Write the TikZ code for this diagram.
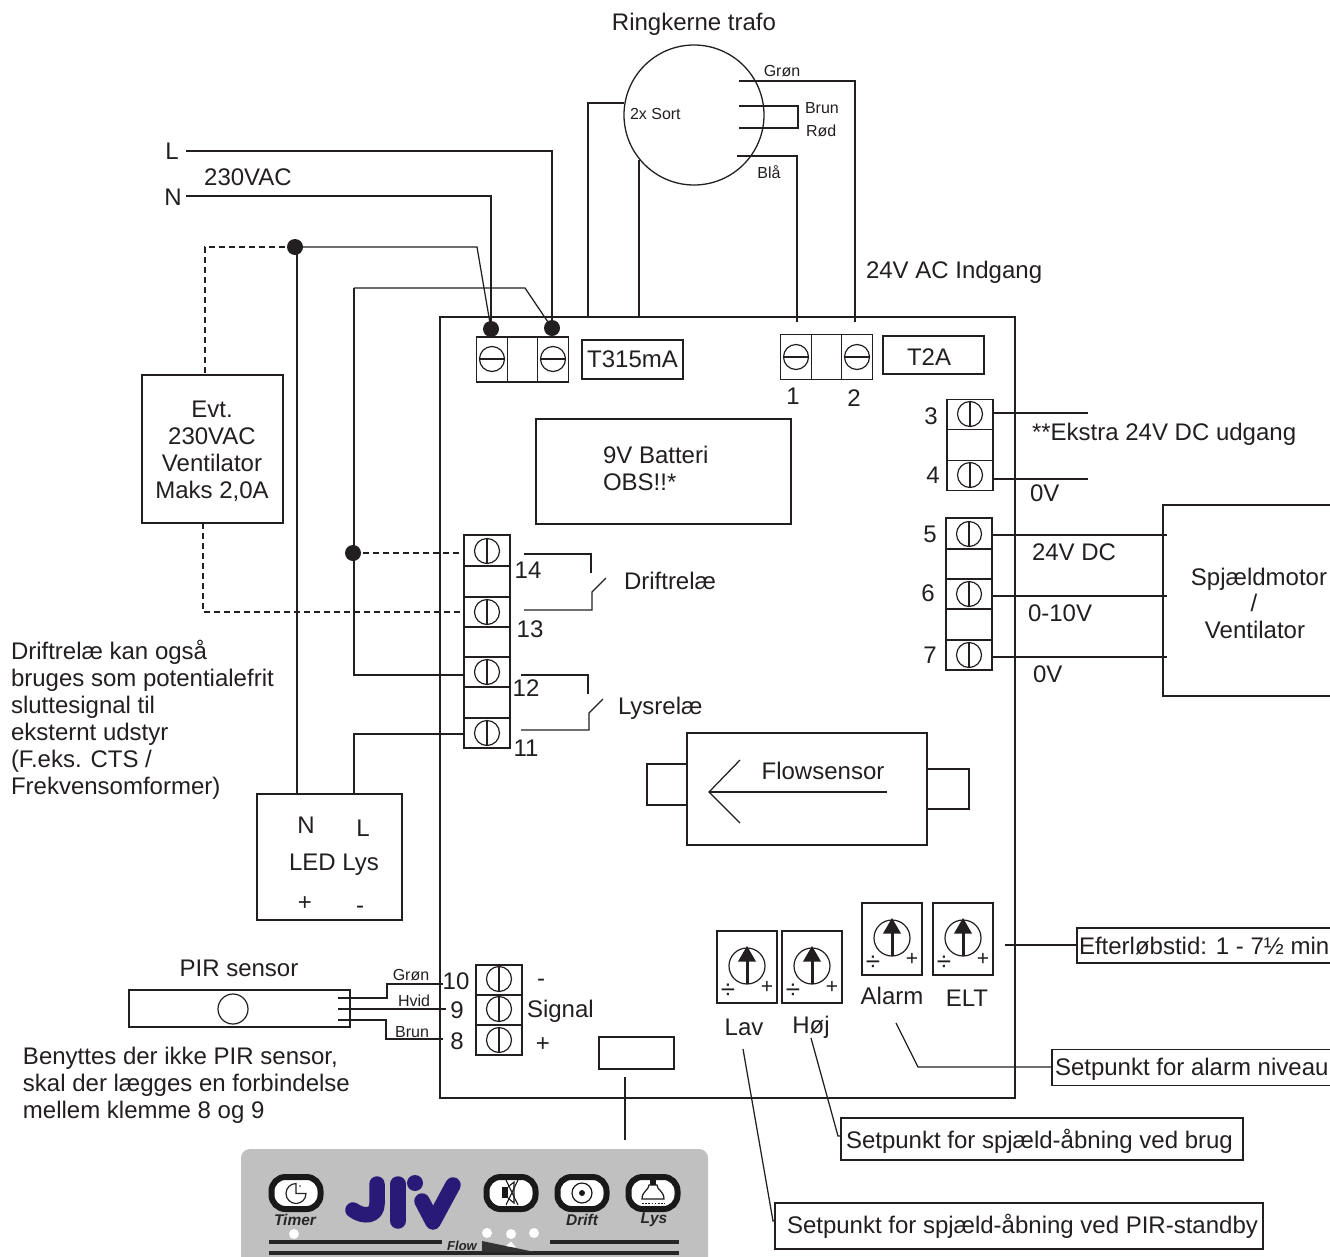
\documentclass[tikz,border=0pt]{standalone}
\usepackage{fontspec}
\setmainfont{Liberation Sans}
\definecolor{ink}{HTML}{231F20}
\definecolor{panelgrey}{HTML}{C0C0C0}
\definecolor{logoblue}{HTML}{2A1A78}
\tikzset{
  wire/.style={draw=ink,line width=1.25pt},
  dashwire/.style={draw=ink,line width=1.1pt,dash pattern=on 6pt off 4pt},
  boxn/.style={draw=ink,line width=1.3pt,inner sep=0pt,outer sep=0pt,text=ink,font=\fontsize{24}{27}\selectfont},
  txt/.style={inner sep=0pt,outer sep=0pt,text=ink,font=\fontsize{24}{27}\selectfont},
  small/.style={txt,font=\fontsize{16}{18}\selectfont},
  lbl/.style={txt,anchor=west},
  junction/.style={circle,fill=ink,inner sep=0pt,minimum size=16pt},
  panellbl/.style={inner sep=0pt,text=black!85,font=\fontsize{15.5}{16}\selectfont\bfseries\itshape},
  pill/.style={draw=black!90,fill=white,line width=6pt,rounded corners=14pt,minimum width=49pt,minimum height=32pt,inner sep=0pt},
  screwv/.pic={\draw[ink,line width=1.2pt] (0,0) circle[radius=12.5pt]; \draw[ink,line width=1.2pt] (0,-12.5) -- (0,12.5);},
  screwh/.pic={\draw[ink,line width=1.2pt] (0,0) circle[radius=12.5pt]; \draw[ink,line width=1.2pt] (-12.5,0) -- (12.5,0);},
  potm/.pic={
    \draw[ink,line width=1.2pt] (0,0) circle[radius=18pt];
    \draw[ink,line width=3pt] (0,18) -- (0,-6);
    \fill[ink] (0,-20) -- (9,-4.5) -- (-9,-4.5) -- cycle;
    \node[txt,font=\fontsize{26}{26}\selectfont] at (-19,25) {÷};
    \node[txt,font=\fontsize{21}{21}\selectfont] at (20,21) {+};
  },
}
\begin{document}
\begin{tikzpicture}[x=1pt,y=-1pt]
\clip (0,0) rectangle (1330,1256);
\fill[white] (0,0) rectangle (1330,1256);

% --- main board
\node[boxn,minimum width=575pt,minimum height=781pt] (board) at (727.5,707.5) {};

% --- top fuse terminal
\node[boxn,minimum width=30.5pt,minimum height=45pt] (fa) at (492,359.5) {};
\node[boxn,minimum width=30.5pt,minimum height=45pt] (fb) at (522.5,359.5) {};
\node[boxn,minimum width=30.5pt,minimum height=45pt] (fc) at (553,359.5) {};
\pic at (492,359) {screwh}; \pic at (553,359) {screwh};
\node[boxn,minimum width=101pt,minimum height=39pt] (t315) at (632.5,359.5) {T315mA};

\node[boxn,minimum width=30.5pt,minimum height=45pt] (ga) at (796,357) {};
\node[boxn,minimum width=30.5pt,minimum height=45pt] (gb) at (826.5,357) {};
\node[boxn,minimum width=30.5pt,minimum height=45pt] (gc) at (857,357) {};
\pic at (796,357) {screwh}; \pic at (857,357) {screwh};
\node[boxn,minimum width=101pt,minimum height=38pt] (t2a) at (933.5,355) {};
\node[txt] (t2atxt) at (929,357) {T2A};
\node[txt] (n1) at (793,396) {1};
\node[txt] (n2) at (854,398) {2};

% --- transformer
\node[draw=ink,line width=1.3pt,circle,minimum size=140pt,inner sep=0pt,outer sep=0pt] (ring) at (694,115) {};
\node[txt] (ringlbl) at (694,24) {Ringkerne trafo};
\node[small,anchor=west] (sort) at (630,114) {2x Sort};
\node[small] (gron) at (782,71) {Grøn};
\node[small,anchor=west] (brun) at (805,108) {Brun};
\node[small,anchor=west] (rod) at (806,131) {Rød};
\node[small] (bla) at (769,172) {Blå};
\coordinate (gr0) at (739,81); \coordinate (gr1) at (855,322);
\coordinate (br0) at (739,106); \coordinate (br1) at (798,117); \coordinate (ro0) at (739,128);
\coordinate (bl0) at (737,156); \coordinate (bl1) at (797,322);
\coordinate (so0) at (623.5,103); \coordinate (so1) at (588,317);
\coordinate (so2) at (639,160); \coordinate (so3) at (639,317);
\draw[wire] (gr0) -| (gr1);
\draw[wire] (br0) -| (br1) |- (ro0);
\draw[wire] (bl0) -| (bl1);
\draw[wire] (so0) -| (so1);
\draw[wire] (so2) -- (so3);

% --- mains
\node[txt] (lL) at (172,151) {L};
\node[txt] (lN) at (173,197) {N};
\node[txt] (lV) at (248,177) {230VAC};
\node[junction] (dotL) at (552,328) {};
\node[junction] (dotN) at (491,329) {};
\node[junction] (dotA) at (295,247) {};
\node[junction] (dotB) at (353,553) {};
\coordinate (Lstart) at (186,151); \coordinate (Nstart) at (186,196);
\coordinate (kink1) at (477,247); \coordinate (kink2) at (525,288);
\coordinate (top12) at (354,288);
\draw[wire] (Lstart) -| (dotL.center);
\draw[wire] (Nstart) -| (dotN.center);
\draw[wire] (dotA.center) -- (kink1) -- (dotN.center);
\draw[wire] (dotL.center) -- (kink2) -- (top12);

% --- 230V fan
\node[boxn,minimum width=141pt,minimum height=148pt] (fan) at (212.5,449) {};
\node[txt,align=center] (fantxt) at (212,451) {Evt.\\230VAC\\Ventilator\\Maks 2,0A};
\coordinate (fd1) at (205,375); \coordinate (fd2) at (203,523);
\coordinate (fd3) at (464,612);
\draw[dashwire] (dotA.center) -| (fd1);
\draw[dashwire] (fd2) |- (fd3);

% --- left terminal block
\node[boxn,minimum width=46pt,minimum height=31pt] (k14) at (487,550.5) {};
\node[boxn,minimum width=46pt,minimum height=31pt] (kA) at (487,581.5) {};
\node[boxn,minimum width=46pt,minimum height=30pt] (k13) at (487,612) {};
\node[boxn,minimum width=46pt,minimum height=30pt] (kB) at (487,642) {};
\node[boxn,minimum width=46pt,minimum height=30pt] (k12) at (487,672) {};
\node[boxn,minimum width=46pt,minimum height=31pt] (kC) at (487,702.5) {};
\node[boxn,minimum width=46pt,minimum height=30pt] (k11) at (487,733) {};
\pic at (487,551) {screwv}; \pic at (487,612) {screwv};
\pic at (487,672) {screwv}; \pic at (487,733) {screwv};
\node[txt] (n14) at (528,570) {14};
\node[txt] (n13) at (530,629) {13};
\node[txt] (n12) at (526,688) {12};
\node[txt] (n11) at (526,748) {11};
\draw[dashwire] (dotB.center) -- (k14.west |- dotB);
\coordinate (w12) at (464,675);
\coordinate (w11b) at (464,734);
\coordinate (w11a) at (354,794);
\draw[wire] (top12) |- (w12);
\draw[wire] (w11a) |- (w11b);
\coordinate (nw) at (297,794);
\draw[wire] (dotA.center -| nw) -- (nw);

% --- relays
\coordinate (r1a) at (524,554); \coordinate (r1b) at (591,573);
\coordinate (r1c) at (524,610); \coordinate (r1d) at (592,592); \coordinate (r1e) at (606,578);
\draw[wire] (r1a) -| (r1b);
\draw[wire] (r1c) -| (r1d) -- (r1e);
\coordinate (r2a) at (521,675); \coordinate (r2b) at (588,694);
\coordinate (r2c) at (521,730); \coordinate (r2d) at (589,713); \coordinate (r2e) at (603,699);
\draw[wire] (r2a) -| (r2b);
\draw[wire] (r2c) -| (r2d) -- (r2e);
\node[lbl] (drift) at (624,581) {Driftrelæ};
\node[lbl] (lys) at (618,708) {Lysrelæ};

% --- note and LED
\node[txt,anchor=north west,align=left] (note) at (11,640) {Driftrelæ kan også\\bruges som potentialefrit\\sluttesignal til\\eksternt udstyr\\(F.eks. CTS /\\Frekvensomformer)};
\node[boxn,minimum width=145pt,minimum height=126pt] (led) at (329.5,857) {};
\node[txt] (ledN) at (306,825) {N};
\node[txt] (ledL) at (363,828) {L};
\node[txt] (ledT) at (334,865) {LED Lys};
\node[txt] (ledP) at (305,904) {+};
\node[txt] (ledM) at (360,910) {-};

% --- battery
\node[boxn,minimum width=255pt,minimum height=105pt] (bat) at (663.5,471.5) {};
\node[txt,anchor=north west,align=left] (battxt) at (603,446.5) {9V Batteri\\OBS!!*};

% --- right terminals
\node[boxn,minimum width=46pt,minimum height=30.5pt] (k3) at (970,414.5) {};
\node[boxn,minimum width=46pt,minimum height=30.5pt] (kD) at (970,445) {};
\node[boxn,minimum width=46pt,minimum height=30.5pt] (k4) at (970,475.5) {};
\pic at (970,414) {screwv}; \pic at (970,475) {screwv};
\node[txt] (n3) at (931,416) {3};
\node[txt] (n4) at (933,475) {4};
\coordinate (e3) at (1088,413); \coordinate (e4) at (1088,479);
\draw[wire] (k3.east |- e3) -- (e3);
\draw[wire] (k4.east |- e4) -- (e4);
\node[lbl] (ekstra) at (1032,434) {**Ekstra 24V DC udgang};
\node[lbl] (ov1) at (1030,493) {0V};

\node[boxn,minimum width=46pt,minimum height=31pt] (k5) at (969,533.5) {};
\node[boxn,minimum width=46pt,minimum height=30pt] (kE) at (969,564) {};
\node[boxn,minimum width=46pt,minimum height=30pt] (k6) at (969,594) {};
\node[boxn,minimum width=46pt,minimum height=31pt] (kF) at (969,624.5) {};
\node[boxn,minimum width=46pt,minimum height=30pt] (k7) at (969,655) {};
\pic at (969,534) {screwv}; \pic at (969,594) {screwv}; \pic at (969,655) {screwv};
\node[txt] (n5) at (930,534) {5};
\node[txt] (n6) at (928,593) {6};
\node[txt] (n7) at (930,655) {7};
\node[boxn,minimum width=200pt,minimum height=191pt] (damper) at (1263,600.5) {};
\coordinate (d5) at (1167,535); \coordinate (d6) at (1167,596); \coordinate (d7) at (1167,657);
\draw[wire] (k5.east |- d5) -- (d5);
\draw[wire] (k6.east |- d6) -- (d6);
\draw[wire] (k7.east |- d7) -- (d7);
\node[lbl] (v24) at (1032,552) {24V DC};
\node[lbl] (v010) at (1028,613) {0-10V};
\node[lbl] (ov2) at (1033,674) {0V};
\node[txt] (sp1) at (1259,579) {Spjældmotor};
\node[txt] (sp2) at (1254,603) {/};
\node[txt] (sp3) at (1255,630) {Ventilator};
\node[lbl] (ind) at (866,272) {24V AC Indgang};

% --- flow sensor
\node[boxn,minimum width=240pt,minimum height=112pt] (flow) at (807,789) {};
\node[boxn,minimum width=40pt,minimum height=41pt] (fl) at (667,784.5) {};
\node[boxn,minimum width=42pt,minimum height=40pt] (fr) at (948,789) {};
\node[txt] (flowtxt) at (823,771) {Flowsensor};
\coordinate (fa0) at (887,792); \coordinate (fa1) at (709,792);
\coordinate (fa2) at (740,760); \coordinate (fa3) at (740,823);
\draw[wire] (fa0) -- (fa1);
\draw[wire] (fa2) -- (fa1) -- (fa3);

% --- potentiometers
\node[boxn,minimum width=60pt,minimum height=72pt] (plav) at (747,967) {};
\node[boxn,minimum width=60pt,minimum height=72pt] (phoj) at (812,967) {};
\node[boxn,minimum width=60pt,minimum height=72pt] (palarm) at (892,939) {};
\node[boxn,minimum width=60pt,minimum height=72pt] (pelt) at (963,939) {};
\pic at (747,966) {potm}; \pic at (812,966) {potm};
\pic at (892,938) {potm}; \pic at (963,938) {potm};
\node[txt] (tlav) at (744,1027) {Lav};
\node[txt] (thoj) at (811,1027) {Høj};
\node[txt] (talarm) at (892,996) {Alarm};
\node[txt] (telt) at (967,998) {ELT};

% --- callouts
\node[boxn,minimum width=270pt,minimum height=35pt] (cb1) at (1212,945.5) {};
\node[lbl] (c1) at (1079,946) {Efterløbstid: 1 - 7½ min};
\coordinate (c1s) at (1005,945);
\draw[wire] (c1s) -- (cb1.west |- c1s);
\node[boxn,minimum width=290pt,minimum height=36pt] (cb2) at (1197,1067.5) {};
\node[lbl] (c2) at (1055,1069) {Setpunkt for alarm niveau};
\coordinate (c2s) at (896,1023); \coordinate (c2k) at (918,1067);
\draw[wire] (c2s) -- (c2k) -- (cb2.west |- c2k);
\node[boxn,minimum width=402pt,minimum height=42pt] (cb3) at (1042,1139) {};
\node[lbl] (c3) at (846,1141) {Setpunkt for spjæld-åbning ved brug};
\coordinate (c3s) at (811,1038); \coordinate (c3k) at (838,1136);
\draw[wire] (c3s) -- (c3k) -- (cb3.west |- c3k);
\node[boxn,minimum width=488pt,minimum height=46pt] (cb4) at (1019,1226) {};
\node[lbl] (c4) at (787,1226) {Setpunkt for spjæld-åbning ved PIR-standby};
\coordinate (c4s) at (743,1049); \coordinate (c4k) at (773,1221);
\draw[wire] (c4s) -- (c4k) -- (cb4.west |- c4k);

% --- PIR
\node[txt] (pirt) at (239,968) {PIR sensor};
\node[boxn,minimum width=221pt,minimum height=37pt] (pir) at (239.5,1008.5) {};
\node[draw=ink,line width=1.2pt,circle,minimum size=30pt,inner sep=0pt] (pirc) at (233,1009) {};
\node[small] (pg) at (411,975) {Grøn};
\node[small] (ph) at (414,1001) {Hvid};
\node[small] (pb) at (412,1032) {Brun};
\coordinate (p1a) at (338,998); \coordinate (p1b) at (387,998); \coordinate (p1c) at (387,984); \coordinate (p1d) at (443,984);
\coordinate (p2a) at (338,1009); \coordinate (p2d) at (446,1009);
\coordinate (p3a) at (338,1020); \coordinate (p3b) at (386,1020); \coordinate (p3c) at (386,1039); \coordinate (p3d) at (443,1039);
\draw[wire] (p1a) -- (p1b) -- (p1c) -- (p1d);
\draw[wire] (p2a) -- (p2d);
\draw[wire] (p3a) -- (p3b) -- (p3c) -- (p3d);
\node[txt] (n10) at (456,981) {10};
\node[txt] (n9) at (457,1010) {9};
\node[txt] (n8) at (457,1041) {8};
\node[boxn,minimum width=46pt,minimum height=30pt] (k10t) at (499,980) {};
\node[boxn,minimum width=46pt,minimum height=30pt] (k9t) at (499,1010) {};
\node[boxn,minimum width=46pt,minimum height=30pt] (k8t) at (499,1040) {};
\pic at (499,979) {screwv}; \pic at (499,1009) {screwv}; \pic at (499,1040) {screwv};
\node[txt] (sm) at (541,983) {-};
\node[lbl] (sg) at (527,1011) {Signal};
\node[txt] (sp) at (543,1045) {+};
\node[txt,anchor=north west,align=left] (pirnote) at (23,1047) {Benyttes der ikke PIR sensor,\\skal der lægges en forbindelse\\mellem klemme 8 og 9};

% --- display connector and panel
\node[boxn,minimum width=75pt,minimum height=32pt] (conn) at (636.5,1053) {};
\coordinate (cn1) at (625,1077); \coordinate (cn2) at (625,1140);
\draw[wire] (cn1) -- (cn2);
\fill[panelgrey,rounded corners=9pt] (241,1149) rectangle (708,1290);
\node[pill] (btimer) at (296,1193) {};
\node[pill] (bmute) at (511,1193) {};
\node[pill] (bdrift) at (582,1193) {};
\node[pill] (blys) at (653,1193) {};
% clock
\draw[black!85,line width=1.2pt] (296,1183.5) arc[start angle=90,end angle=360,radius=10pt] -- (296,1193.5) -- cycle;
\fill[black!85] (300,1186) circle[radius=0.9pt];
% mute
\fill[black!90] (502,1187) rectangle (508,1198);
\draw[black!90,line width=1.1pt] (508,1187) -- (514,1182) -- (514,1203) -- (508,1198);
\draw[black!90,line width=1.1pt] (506,1180) -- (518,1205) (518,1180) -- (506,1205);
% target
\draw[black!90,line width=1.2pt] (582,1193) circle[radius=10pt];
\fill[black!90] (582,1193) circle[radius=3pt];
% lamp
\draw[black!90,line width=1.2pt] (642,1199) .. controls (642,1191) and (649,1190) .. (649,1185) -- (657,1185) .. controls (657,1190) and (664,1191) .. (664,1199) -- cycle;
\fill[black!90] (650,1179) rectangle (656,1185);
\draw[black!90,line width=1.6pt,dash pattern=on 1.6pt off 1.6pt] (642,1203.5) -- (665,1203.5);
% logo
\draw[logoblue,line width=15.5pt,line cap=round,line join=round] (377,1184) -- (377,1204) .. controls (377,1216) and (364,1218) .. (353,1210);
\draw[logoblue,line width=15.5pt,line cap=round] (398,1184) -- (398,1221);
\fill[logoblue] (415,1183) circle[radius=8pt];
\draw[logoblue,line width=15.5pt,line cap=round,line join=round] (422,1201) -- (433,1222) -- (453,1185);
\node[panellbl] (ptimer) at (295,1220) {Timer};
\node[panellbl] (pdrift) at (582,1220) {Drift};
\node[panellbl] (plys) at (654,1220) {Lys};
\node[panellbl,font=\fontsize{13}{14}\selectfont\bfseries\itshape] (pflow) at (462,1246) {Flow};
\fill[white] (294,1234) circle[radius=5pt];
\fill[white] (487,1233) circle[radius=5pt];
\fill[white] (511,1234) circle[radius=5pt];
\fill[white] (534,1233) circle[radius=5pt];
\fill[black!85] (269,1240) rectangle (442,1244);
\fill[black!85] (550,1240) rectangle (679,1244);
\fill[black!85] (269,1251) rectangle (679,1255);
\fill[black!80] (482,1241) -- (482,1252) -- (535,1252) -- cycle;
\fill[white] (506,1246) -- (511,1241.5) -- (516,1247.5) -- cycle;
\end{tikzpicture}
\end{document}
